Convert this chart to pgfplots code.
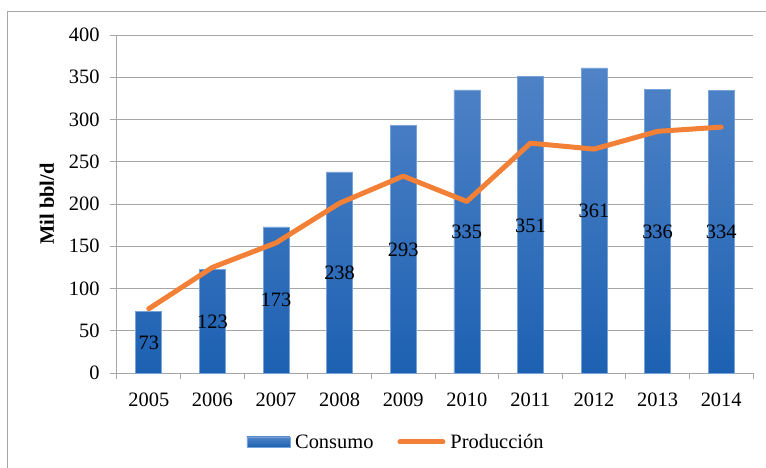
\documentclass[border=0pt]{standalone}
\usepackage{fontspec}
\setmainfont{Liberation Serif}
\usepackage{pgfplots}
\pgfplotsset{compat=1.18}
\definecolor{bartop}{RGB}{80,131,199}
\definecolor{barbot}{RGB}{29,97,178}
\definecolor{baredge}{RGB}{120,163,216}
\definecolor{prodorange}{RGB}{242,128,54}
\definecolor{gridgray}{RGB}{166,166,166}
\newcommand{\fs}{\fontsize{20.5}{24}\selectfont}
\begin{document}
\begin{tikzpicture}
\useasboundingbox (-117bp,-95bp) rectangle (649bp,373bp);
\draw[gridgray, line width=1bp] (-109bp,-120bp) -- (-109bp,361bp) -- (680bp,361bp);
\begin{axis}[
  at={(0,0)}, anchor=south west,
  scale only axis, width=636bp, height=338bp,
  xmin=-0.5, xmax=9.5, ymin=0, ymax=400,
  xtick={0,...,9},
  xticklabels={2005,2006,2007,2008,2009,2010,2011,2012,2013,2014},
  every major x tick/.style={draw=none},
  minor xtick={-0.5,0.5,...,9.5},
  ytick={0,50,...,400},
  tick align=outside,
  major tick length=7bp, minor tick length=6bp,
  ymajorgrids, grid style={gridgray, line width=1bp},
  axis x line*=bottom, axis y line*=left,
  axis line style={gridgray, line width=1bp, -},
  tick style={gridgray, line width=1bp},
  ticklabel style={font=\fs},
  xticklabel style={yshift=-9bp},
  yticklabel style={xshift=-7bp},
  /pgf/number format/assume math mode=true,
  ylabel={Mil bbl/d},
  every axis y label/.style={at={(axis description cs:-0.1101,0.5)}, rotate=90, anchor=center, font=\fs\bfseries},
  legend style={at={(axis description cs:0.4387,-0.2041)}, anchor=center,
    draw=none, fill=none, legend columns=2, font=\fs,
    /tikz/every odd column/.append style={column sep=3bp},
    /tikz/every even column/.append style={column sep=22bp}},
  legend cell align=left,
]
\addplot[ybar, bar width=26bp, draw=baredge, line width=0.6bp,
  top color=bartop, bottom color=barbot,
  legend image code/.code={\draw[draw=baredge, line width=0.6bp, top color=bartop, bottom color=barbot] (0bp,-5bp) rectangle (43bp,5bp);}]
  coordinates {(0,73) (1,123) (2,173) (3,238) (4,293) (5,335) (6,351) (7,361) (8,336) (9,334)};
\addplot[prodorange, line width=5bp, line join=round, line cap=round, mark=none,
  legend image code/.code={\draw[prodorange, line width=5bp, line cap=round] (2bp,0bp) -- (45bp,0bp);}]
  coordinates {(0,76) (1,125) (2,154) (3,201) (4,233) (5,203) (6,272) (7,265) (8,286) (9,291)};
\addplot[draw=none, mark=none, forget plot, nodes near coords, point meta=explicit symbolic,
  every node near coord/.style={anchor=center, font=\fs, text=black}]
  coordinates {(0,35.5)[73] (1,60.4)[123] (2,86.4)[173] (3,118.3)[238] (4,145.6)[293]
    (5,166.9)[335] (6,174)[351] (7,191.7)[361] (8,166.9)[336] (9,166.9)[334]};
\legend{Consumo, Producción}
\end{axis}
\end{tikzpicture}
\end{document}
